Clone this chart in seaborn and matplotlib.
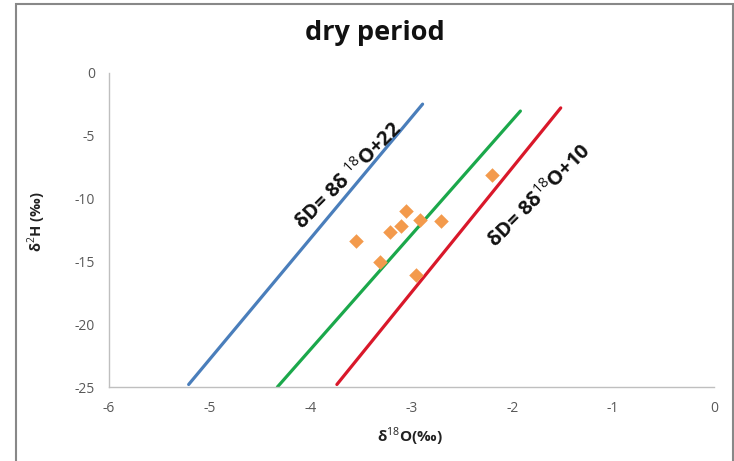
import matplotlib
matplotlib.use("Agg")
import matplotlib.pyplot as plt
import seaborn as sns
import pandas as pd
from matplotlib.patches import Rectangle

# ---- data ----
sample_d18O = [-3.05, -3.21, -3.10, -2.92, -2.71, -3.55, -3.31, -2.96, -2.20]
sample_d2H = [-10.98, -12.65, -12.17, -11.72, -11.80, -13.39, -15.04, -16.09, -8.14]

blue_x = [-5.21, -2.89]
blue_y = [-24.8, -2.5]
green_x = [-4.33, -1.92]
green_y = [-25.0, -3.05]
red_x = [-3.74, -1.52]
red_y = [-24.8, -2.8]

x_ticks = [-6, -5, -4, -3, -2, -1, 0]
y_ticks = [0, -5, -10, -15, -20, -25]

title = "dry period"
xlabel = "δ$^{18}$O(‰)"
ylabel = "δ$^{2}$H (‰)"
label_blue = "δD= 8δ $^{18}$O+22"
label_red = "δD= 8δ$^{18}$O+10"

sns.set_theme(style="white")
plt.rcParams['font.family'] = ['Open Sans', 'DejaVu Sans']
plt.rcParams['mathtext.fontset'] = 'custom'
plt.rcParams['mathtext.rm'] = 'Open Sans'
plt.rcParams['mathtext.bf'] = 'Open Sans:bold'

fig = plt.figure(figsize=(7.34, 4.61), dpi=100)
ax = fig.add_axes([109/734, 1-387/461, (714-109)/734, (387-72.7)/461])

lines = pd.DataFrame({
    "x": blue_x + green_x + red_x,
    "y": blue_y + green_y + red_y,
    "line": ["blue"]*2 + ["green"]*2 + ["red"]*2,
})
sns.lineplot(data=lines, x="x", y="y", hue="line",
             palette={"blue": "#4A7EBB", "green": "#1BA84B", "red": "#D9182A"},
             linewidth=2.3, legend=False, ax=ax, sort=False, estimator=None)

pts = pd.DataFrame({"x": sample_d18O, "y": sample_d2H})
sns.scatterplot(data=pts, x="x", y="y", marker="D", s=55, color="#F39A4C",
                edgecolor="#F39A4C", linewidth=0, ax=ax, zorder=5)

ax.set_xlim(-6, 0)
ax.set_ylim(-25, 0)
ax.set_xticks(x_ticks)
ax.set_yticks(y_ticks)
ax.set_xticklabels([str(t) for t in x_ticks])
ax.set_yticklabels([str(t) for t in y_ticks])
for s in ["top", "right"]:
    ax.spines[s].set_visible(False)
for s in ["left", "bottom"]:
    ax.spines[s].set_color("#BFBFBF")
    ax.spines[s].set_linewidth(1.0)
ax.tick_params(axis="both", which="major", direction="out", length=4, width=1,
               color="#BFBFBF", labelsize=10, labelcolor="#595959", pad=6)
ax.set_xlabel("")
ax.set_ylabel("")

fig.text(410/734, 1-437/461, xlabel, ha="center", va="center",
         fontsize=11, fontweight="bold", color="#222222")
fig.text(37/734, 1-222/461, ylabel, ha="center", va="center", rotation=90,
         fontsize=10.5, fontweight="bold", color="#222222")

fig.text(375/734, 1-33/461, title, ha="center", va="center",
         fontsize=19.5, fontweight="bold", color="#111111")

ax.text(-3.63, -8.2, label_blue, rotation=45, ha="center", va="center",
        fontsize=14.5, fontweight="bold", color="#111111", rotation_mode="anchor")
ax.text(-1.73, -9.8, label_red, rotation=45, ha="center", va="center",
        fontsize=14.5, fontweight="bold", color="#111111", rotation_mode="anchor")

fig.patches.append(Rectangle((16/734, -0.05), (733-16)/734, 1.05 - 4/461,
                             transform=fig.transFigure, fill=False,
                             edgecolor="#888888", linewidth=1.5))

fig.savefig("out.png", dpi=100, facecolor="white")
